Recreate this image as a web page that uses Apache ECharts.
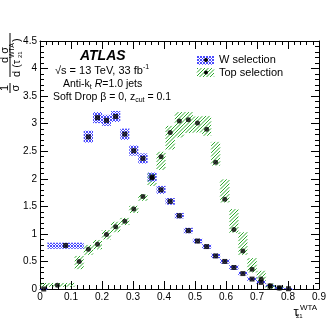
<!DOCTYPE html>
<html>
<head>
<meta charset="utf-8">
<script src="https://cdn.jsdelivr.net/npm/echarts@6/dist/echarts.min.js"></script>
<style>
  html, body { margin: 0; padding: 0; background: #fff; }
  #chart { width: 332px; height: 322px; }
</style>
</head>
<body>
<div id="chart"></div>
<script>
// W selection: bin edges, value, band (down / up)
var wLo = [0, 0.024, 0.141, 0.171, 0.200, 0.229, 0.259, 0.288, 0.317, 0.347, 0.376, 0.405, 0.435, 0.464, 0.493, 0.523, 0.552, 0.581, 0.611, 0.640, 0.669, 0.699, 0.728, 0.757, 0.787];
var wHi = [0.024, 0.141, 0.171, 0.200, 0.229, 0.259, 0.288, 0.317, 0.347, 0.376, 0.405, 0.435, 0.464, 0.493, 0.523, 0.552, 0.581, 0.611, 0.640, 0.669, 0.699, 0.728, 0.757, 0.787, 0.816];
var wVal = [0.0, 0.79, 2.76, 3.11, 3.06, 3.13, 2.81, 2.51, 2.37, 2.03, 1.80, 1.59, 1.33, 1.06, 0.87, 0.77, 0.60, 0.50, 0.39, 0.28, 0.18, 0.12, 0.055, 0.02, 0.005];
var wDn = [0.0, 0.73, 2.66, 3.01, 2.96, 3.03, 2.71, 2.42, 2.28, 1.95, 1.73, 1.53, 1.28, 1.01, 0.83, 0.73, 0.56, 0.46, 0.35, 0.25, 0.15, 0.09, 0.035, 0.01, 0.0];
var wUp = [0.01, 0.84, 2.87, 3.21, 3.16, 3.23, 2.91, 2.60, 2.46, 2.11, 1.87, 1.65, 1.38, 1.11, 0.91, 0.81, 0.64, 0.54, 0.43, 0.31, 0.21, 0.15, 0.075, 0.03, 0.015];

// Top selection
var tLo = [0, 0.112, 0.141, 0.171, 0.200, 0.229, 0.259, 0.288, 0.317, 0.347, 0.376, 0.405, 0.435, 0.464, 0.493, 0.523, 0.552, 0.581, 0.611, 0.640, 0.669, 0.699, 0.728, 0.757];
var tHi = [0.112, 0.141, 0.171, 0.200, 0.229, 0.259, 0.288, 0.317, 0.347, 0.376, 0.405, 0.435, 0.464, 0.493, 0.523, 0.552, 0.581, 0.611, 0.640, 0.669, 0.699, 0.728, 0.757, 0.787];
var tVal = [0.07, 0.50, 0.72, 0.81, 0.99, 1.13, 1.23, 1.45, 1.68, 2.02, 2.40, 2.84, 3.05, 3.07, 3.01, 2.90, 2.30, 1.63, 1.08, 0.69, 0.36, 0.18, 0.055, 0.02];
var tDn = [0.04, 0.36, 0.62, 0.72, 0.90, 1.03, 1.16, 1.38, 1.60, 1.87, 2.16, 2.53, 2.75, 2.83, 2.84, 2.78, 2.24, 1.57, 1.02, 0.62, 0.30, 0.13, 0.005, 0.0];
var tUp = [0.11, 0.60, 0.80, 0.89, 1.07, 1.22, 1.29, 1.51, 1.72, 2.10, 2.49, 2.96, 3.21, 3.21, 3.13, 3.14, 2.67, 1.99, 1.45, 1.03, 0.56, 0.33, 0.10, 0.04];

var FONT = 'Liberation Sans';
var BLUE = '#4a4aff';
var GREEN = '#2aa82a';

// ROOT-like hatching drawn as short lines inside a box
function hatchLines(x0, y0, x1, y1, step, color, cross) {
  var out = [], c, xa, xb;
  var st = { stroke: color, lineWidth: 1 };
  for (c = Math.ceil((x0 + y0) / step) * step; c < x1 + y1; c += step) {
    xa = Math.max(x0, c - y1); xb = Math.min(x1, c - y0);
    if (xb > xa) out.push({ type: 'line', shape: { x1: xa, y1: c - xa, x2: xb, y2: c - xb }, style: st });
  }
  if (cross) {
    for (c = Math.ceil((y0 - x1) / step) * step; c < y1 - x0; c += step) {
      xa = Math.max(x0, y0 - c); xb = Math.min(x1, y1 - c);
      if (xb > xa) out.push({ type: 'line', shape: { x1: xa, y1: xa + c, x2: xb, y2: xb + c }, style: st });
    }
  }
  return out;
}

function bands(lo, hi, dn, up) {
  return lo.map(function (v, i) { return [v, hi[i], dn[i], up[i]]; });
}
function points(lo, hi, val) {
  return lo.map(function (v, i) { return [(v + hi[i]) / 2, val[i]]; });
}
function bandSeries(data, color, step, cross) {
  return {
    type: 'custom',
    data: data,
    silent: true,
    renderItem: function (params, api) {
      var p0 = api.coord([api.value(0), api.value(3)]);
      var p1 = api.coord([api.value(1), api.value(2)]);
      var y1 = Math.max(p1[1], p0[1] + 1.5);
      return { type: 'group', children: hatchLines(p0[0], p0[1], p1[0], y1, step, color, cross) };
    }
  };
}

function axisBase(extra) {
  var a = {
    axisLine: { show: true, onZero: false, lineStyle: { color: '#000', width: 1 } },
    axisTick: { show: true, inside: true, length: 8, lineStyle: { color: '#000' } },
    minorTick: { show: true, splitNumber: 5, length: 4, lineStyle: { color: '#000' } },
    splitLine: { show: false },
    axisLabel: { color: '#000', fontSize: 10, fontFamily: FONT, margin: 3 }
  };
  return Object.assign(a, extra);
}

var chart = echarts.init(document.getElementById('chart'));
var option = {
  animation: false,
  grid: { left: 40, right: 13, top: 41, bottom: 33 },
  xAxis: [
    axisBase({ type: 'value', min: 0, max: 0.9, interval: 0.1, position: 'bottom' }),
    axisBase({ type: 'value', min: 0, max: 0.9, interval: 0.1, position: 'top', axisLabel: { show: false } })
  ],
  yAxis: [
    axisBase({ type: 'value', min: 0, max: 4.5, interval: 0.5, position: 'left' }),
    axisBase({ type: 'value', min: 0, max: 4.5, interval: 0.5, position: 'right', axisLabel: { show: false } })
  ],
  series: [
    bandSeries(bands(tLo, tHi, tDn, tUp), GREEN, 3.5, false),
    bandSeries(bands(wLo, wHi, wDn, wUp), BLUE, 3, true),
    {
      type: 'scatter', data: points(wLo, wHi, wVal),
      symbol: 'rect', symbolSize: 5, itemStyle: { color: '#000' }, clip: false
    },
    {
      type: 'scatter', data: points(tLo, tHi, tVal),
      symbol: 'circle', symbolSize: 5, itemStyle: { color: '#000' }, clip: false
    }
  ],
  graphic: [
    // plot labels
    { type: 'text', x: 80, y: 56, style: { text: 'ATLAS', font: 'italic bold 14px ' + FONT, fill: '#000', verticalAlign: 'middle' } },
    { type: 'text', x: 55, y: 71, style: {
      text: '{a|√s = 13 TeV, 33 fb}{sup|-1}', verticalAlign: 'middle', fill: '#000',
      rich: { a: { fontSize: 11, fontFamily: FONT }, sup: { fontSize: 7, fontFamily: FONT, padding: [0, 0, 8, 0] } }
    } },
    { type: 'text', x: 63, y: 84, style: {
      text: '{a|Anti-k}{sub|t}{a| }{i|R}{a|=1.0 jets}', verticalAlign: 'middle', fill: '#000',
      rich: {
        a: { fontSize: 10.5, fontFamily: FONT },
        i: { fontSize: 10.5, fontFamily: FONT, fontStyle: 'italic' },
        sub: { fontSize: 7, fontFamily: FONT, padding: [6, 0, 0, 0] }
      }
    } },
    { type: 'text', x: 53, y: 97, style: {
      text: '{a|Soft Drop β = 0, z}{sub|cut}{a| = 0.1}', verticalAlign: 'middle', fill: '#000',
      rich: { a: { fontSize: 10.5, fontFamily: FONT }, sub: { fontSize: 7, fontFamily: FONT, padding: [6, 0, 0, 0] } }
    } },
    // legend
    { type: 'group', children: hatchLines(197, 56, 214, 64.5, 3, BLUE, true) },
    { type: 'circle', shape: { cx: 206, cy: 60, r: 2 }, style: { fill: '#000' } },
    { type: 'text', x: 219, y: 60, style: { text: 'W selection', font: '11px ' + FONT, fill: '#000', verticalAlign: 'middle' } },
    { type: 'group', children: hatchLines(197, 68, 214, 77, 3.5, GREEN, false) },
    { type: 'circle', shape: { cx: 206, cy: 72.5, r: 2 }, style: { fill: '#000' } },
    { type: 'text', x: 219, y: 73, style: { text: 'Top selection', font: '11px ' + FONT, fill: '#000', verticalAlign: 'middle' } },
    // x axis title
    { type: 'text', x: 296, y: 312, style: { text: 'τ', font: '13px ' + FONT, fill: '#000', align: 'center', verticalAlign: 'middle' } },
    { type: 'text', x: 300, y: 308, style: { text: 'WTA', font: '8px ' + FONT, fill: '#000', verticalAlign: 'middle' } },
    { type: 'text', x: 296, y: 316, style: { text: '21', font: '6px ' + FONT, fill: '#000', verticalAlign: 'middle' } },
    // y axis title, rotated
    { type: 'group', x: 0, y: 130, rotation: Math.PI / 2, children: [
      { type: 'text', x: 42, y: 4.5, style: { text: '1', font: '11px ' + FONT, fill: '#000', align: 'center', verticalAlign: 'middle' } },
      { type: 'line', shape: { x1: 37, y1: 10, x2: 47, y2: 10 }, style: { stroke: '#000', lineWidth: 1 } },
      { type: 'text', x: 42, y: 16, style: { text: 'σ', font: '11px ' + FONT, fill: '#000', align: 'center', verticalAlign: 'middle' } },
      { type: 'text', x: 75, y: 4.5, style: { text: 'd σ', font: '11px ' + FONT, fill: '#000', align: 'center', verticalAlign: 'middle' } },
      { type: 'line', shape: { x1: 53, y1: 10, x2: 97, y2: 10 }, style: { stroke: '#000', lineWidth: 1 } },
      { type: 'text', x: 53, y: 16.5, style: { text: 'd (τ', font: '11px ' + FONT, fill: '#000', verticalAlign: 'middle' } },
      { type: 'text', x: 72, y: 12.5, style: { text: 'WTA', font: '7px ' + FONT, fill: '#000', verticalAlign: 'middle' } },
      { type: 'text', x: 72, y: 20, style: { text: '21', font: '6px ' + FONT, fill: '#000', verticalAlign: 'middle' } },
      { type: 'text', x: 88, y: 16.5, style: { text: ')', font: '11px ' + FONT, fill: '#000', verticalAlign: 'middle' } }
    ] }
  ]
};
chart.setOption(option);
</script>
</body>
</html>
